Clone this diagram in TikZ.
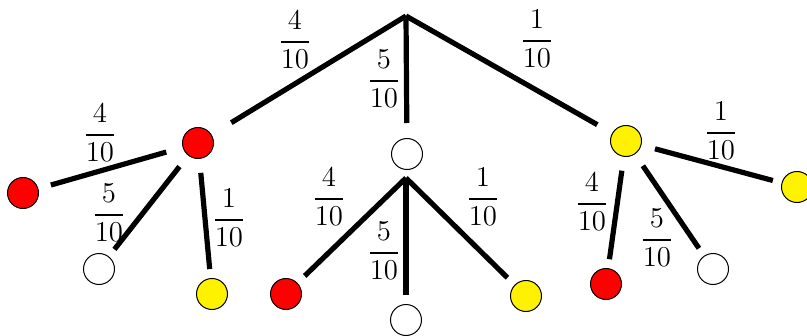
\documentclass[tikz,border=0pt]{standalone}
\usepackage{amsmath}
\usetikzlibrary{shapes.geometric}
\tikzset{
  ball/.style={circle, draw=black, line width=0.5pt, minimum size=15.5pt, inner sep=0pt},
  redball/.style={ball, fill=red},
  whiteball/.style={ball, fill=white},
  yellowball/.style={ball, fill=yellow},
  branch/.style={line width=2.6pt, shorten <=7pt, shorten >=4.5pt},
  rootbranch/.style={line width=2.6pt},
  prob/.style={inner sep=0pt, font=\fontsize{14}{16}\selectfont}
}
\begin{document}
\begin{tikzpicture}[x=0.5pt, y=-0.5pt]
\useasboundingbox (0,0) rectangle (807,336);
\clip (0,0) rectangle (807,336);
% root
\coordinate (root) at (406,16);
\node[redball] (A) at (198,143) {};
\node[whiteball] (B) at (407,154) {};
\node[yellowball] (C) at (626,141) {};
\draw[rootbranch, shorten >=11.5pt] (root) -- (A);
\draw[rootbranch, shorten >=7.5pt] (root) -- (B);
\draw[rootbranch, shorten >=8.5pt] (root) -- (C);
\node[prob] (lr1) at (295,40) {$\dfrac{4}{10}$};
\node[prob] (lr2) at (384,79) {$\dfrac{5}{10}$};
\node[prob] (lr3) at (537,39) {$\dfrac{1}{10}$};
% left subtree
\node[redball] (A1) at (23,193) {};
\node[whiteball] (A2) at (99,269) {};
\node[yellowball] (A3) at (212,294) {};
\draw[branch, shorten <=8.5pt, shorten >=6.5pt] (A) -- (A1);
\draw[branch] (A) -- (A2);
\draw[branch] (A) -- (A3);
\node[prob] (la1) at (100,133) {$\dfrac{4}{10}$};
\node[prob] (la2) at (109,213) {$\dfrac{5}{10}$};
\node[prob] (la3) at (229,218) {$\dfrac{1}{10}$};
% middle subtree
\coordinate (mid) at (406,178);
\node[redball] (B1) at (286,294) {};
\node[whiteball] (B2) at (406,320) {};
\node[yellowball] (B3) at (526,296) {};
\draw[rootbranch, shorten >=5pt] (mid) -- (B1);
\draw[rootbranch, shorten >=4.5pt] (mid) -- (B2);
\draw[rootbranch, shorten >=5pt] (mid) -- (B3);
\node[prob] (lb1) at (329,197) {$\dfrac{4}{10}$};
\node[prob] (lb2) at (384,251) {$\dfrac{5}{10}$};
\node[prob] (lb3) at (483,197) {$\dfrac{1}{10}$};
% right subtree
\node[redball] (C1) at (606,284) {};
\node[whiteball] (C2) at (713,269) {};
\node[yellowball] (C3) at (797,187) {};
\draw[branch] (C) -- (C1);
\draw[branch] (C) -- (C2);
\draw[branch] (C) -- (C3);
\node[prob] (lc1) at (592,202) {$\dfrac{4}{10}$};
\node[prob] (lc2) at (657,238) {$\dfrac{5}{10}$};
\node[prob] (lc3) at (721,131) {$\dfrac{1}{10}$};
\end{tikzpicture}
\end{document}
